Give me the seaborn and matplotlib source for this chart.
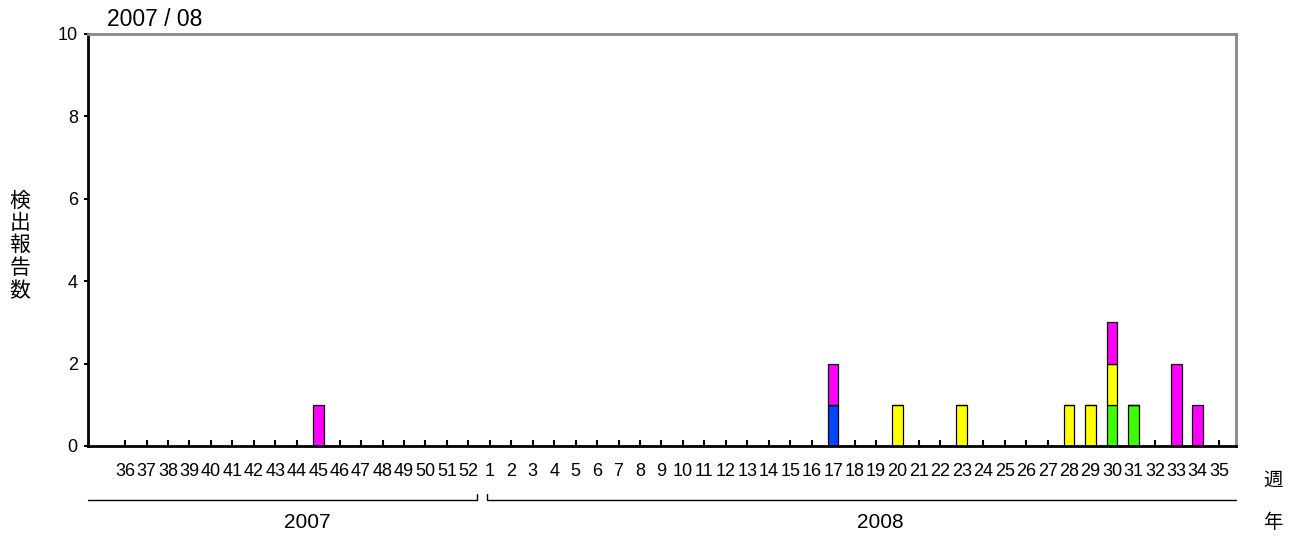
import numpy as np
import pandas as pd
import seaborn as sns
import matplotlib.pyplot as plt
from matplotlib.lines import Line2D

# week labels: 2007 week 36-52, 2008 week 1-35
weeks = [str(w) for w in range(36, 53)] + [str(w) for w in range(1, 36)]

# reports per week for each series (indexed by week label)
series_blue = {"17": 1}
series_green = {"30": 1, "31": 1}
series_yellow = {"20": 1, "23": 1, "28": 1, "29": 1, "30": 1}
series_magenta = {"45": 1, "17": 1, "30": 1, "33": 2, "34": 1}

series_names = ["A", "B", "C", "D"]
series_colors = ["#0047FF", "#3CFF00", "#FFFF00", "#FF00FF"]
series_data = [series_blue, series_green, series_yellow, series_magenta]

rows = []
for name, d in zip(series_names, series_data):
    for wk, n in d.items():
        rows.append({"pos": weeks.index(wk), "series": name, "count": n})
df = pd.DataFrame(rows)

sns.set_style("white")
plt.rcParams["font.family"] = ["Liberation Sans", "Noto Sans CJK JP", "DejaVu Sans"]
plt.rcParams["text.color"] = "black"
plt.rcParams["xtick.color"] = "black"
plt.rcParams["ytick.color"] = "black"

fig = plt.figure(figsize=(12.9, 5.41), dpi=100)
ax = fig.add_axes([87.5 / 1290, 1 - 446 / 541, (1236 - 87.5) / 1290, (446 - 34) / 541])

# last hue level is stacked at the bottom
sns.histplot(data=df, x="pos", weights="count", hue="series",
             hue_order=series_names[::-1],
             palette=dict(zip(series_names, series_colors)),
             multiple="stack", discrete=True, shrink=0.5,
             edgecolor="black", linewidth=0.9, alpha=1,
             legend=False, ax=ax)

ax.set_xlim(-1.75, 51.78)
ax.set_ylim(0, 10)
ax.set_yticks(np.arange(0, 11, 2))
ax.set_xticks(range(len(weeks)))
ax.set_xticklabels(weeks, fontsize=13)
ax.tick_params(axis="y", labelsize=13, direction="out", length=3, width=1.5, left=True, pad=4)
ax.tick_params(axis="x", direction="in", length=4, width=1.5, bottom=True, pad=12)
ax.set_xlabel("")
ax.set_ylabel("")

for s in ["left", "bottom"]:
    ax.spines[s].set_color("black")
    ax.spines[s].set_linewidth(2)
for s in ["top", "right"]:
    ax.spines[s].set_color("#888888")
    ax.spines[s].set_linewidth(2)

fig.text(107 / 1290, 1 - 20 / 541, "2007 / 08", fontsize=16.5, va="center", ha="left")
fig.text(20 / 1290, 1 - 246 / 541, "検\n出\n報\n告\n数", fontsize=15, va="center", ha="center",
         linespacing=1.2)
fig.text(1273 / 1290, 1 - 481 / 541, "週", fontsize=14, va="center", ha="center")
fig.text(1273 / 1290, 1 - 523 / 541, "年", fontsize=14, va="center", ha="center")
fig.text(307 / 1290, 1 - 522 / 541, "2007", fontsize=15, va="center", ha="center")
fig.text(880 / 1290, 1 - 522 / 541, "2008", fontsize=15, va="center", ha="center")

# year brackets
def fline(xs, ys):
    fig.add_artist(Line2D([x / 1290 for x in xs], [1 - y / 541 for y in ys],
                          color="black", linewidth=1))

fline([88, 477, 477], [500, 500, 494])
fline([487, 487, 1236], [494, 500, 500])

fig.savefig("out.png", dpi=100)
